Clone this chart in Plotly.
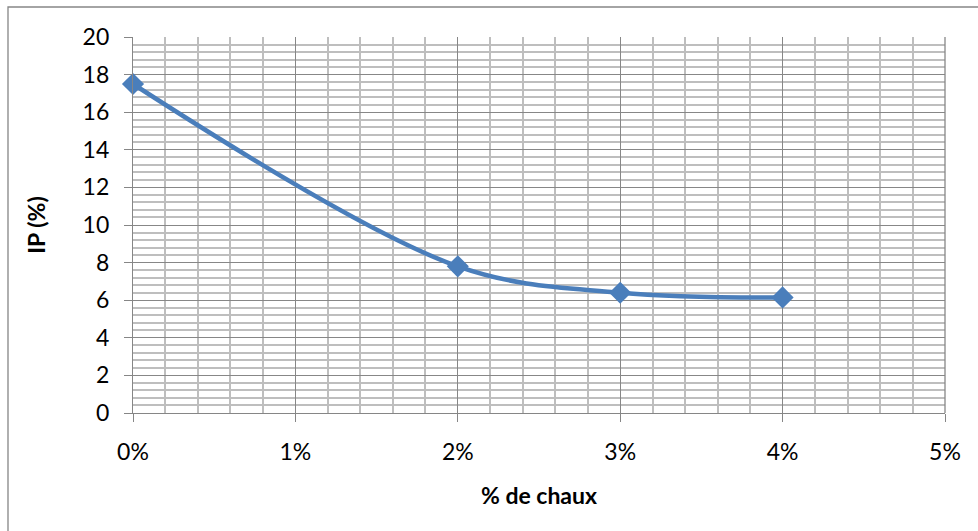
import plotly.graph_objects as go

chaux = [0.00, 0.02, 0.03, 0.04]
ip = [17.5, 7.8, 6.4, 6.15]

x_title = "% de chaux"
y_title = "IP (%)"

FONT = "Lato, Calibri, Carlito, sans-serif"
L, R, T, B = 133, 33, 37, 118
W, H = 978, 531
pw, ph = W - L - R, H - T - B

fig = go.Figure()
fig.add_trace(go.Scatter(
    x=chaux, y=ip, mode="lines+markers",
    line=dict(color="#4A7EBB", width=4.5, shape="spline", smoothing=1.0),
    marker=dict(symbol="diamond", size=17, color="#4A7EBB", line=dict(width=0)),
    showlegend=False, cliponaxis=False,
))

axis_common = dict(
    showline=True, linecolor="#868686", linewidth=1.3,
    ticks="outside", tickcolor="#868686", ticklen=8, tickwidth=1.3,
    gridcolor="#878787", gridwidth=1.3,
    tickfont=dict(family=FONT, size=23, color="#000"),
    zeroline=False,
)

fig.update_xaxes(
    range=[0, 0.05], dtick=0.01, tick0=0, tickformat=".0%",
    minor=dict(dtick=0.002, showgrid=True, gridcolor="#BEBEBE", gridwidth=1.7),
    title=dict(text="<b>" + x_title + "</b>", font=dict(family=FONT, size=23, color="#000"), standoff=24),
    ticklabelstandoff=10,
    **axis_common,
)
fig.update_yaxes(
    range=[0, 20], dtick=2, tick0=0,
    minor=dict(dtick=0.4, showgrid=True, gridcolor="#BEBEBE", gridwidth=1.7),
    title=dict(text="<b>" + y_title + "</b>", font=dict(family=FONT, size=23, color="#000"), standoff=30),
    ticklabelstandoff=10,
    **axis_common,
)

fig.add_shape(type="rect", xref="paper", yref="paper",
              x0=(8 - L) / pw, x1=(W + 10 - L) / pw,
              y0=(H - B - 7) / ph, y1=(H - B - (H + 10)) / ph,
              line=dict(color="#868686", width=1.3), fillcolor="rgba(0,0,0,0)", layer="below")

fig.add_shape(type="line", xref="paper", yref="paper", x0=1, x1=1, y0=0, y1=1,
              line=dict(color="#878787", width=1.3))

fig.update_layout(
    width=W, height=H,
    margin=dict(l=L, r=R, t=T, b=B),
    paper_bgcolor="white", plot_bgcolor="white",
    font=dict(family=FONT),
)

fig.write_html("out.html")
